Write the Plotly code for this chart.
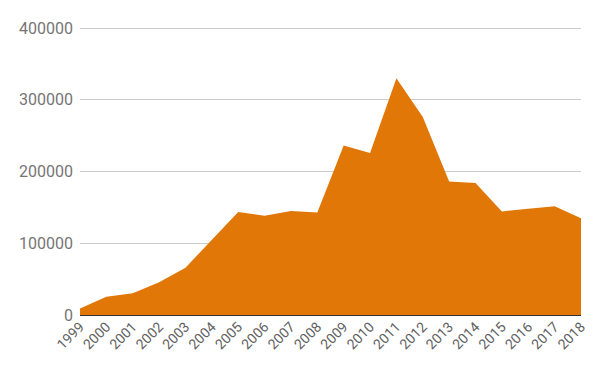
import plotly.graph_objects as go

years = [1999, 2000, 2001, 2002, 2003, 2004, 2005, 2006, 2007, 2008,
         2009, 2010, 2011, 2012, 2013, 2014, 2015, 2016, 2017, 2018]
values = [9000, 25500, 30500, 45500, 66000, 105000, 143500, 138500, 145000, 143000,
          236500, 226000, 330000, 276000, 186000, 184000, 144500, 148000, 151500, 135000]
y_ticks = [0, 100000, 200000, 300000, 400000]
x_labels = [str(y) for y in years]

fig = go.Figure()
fig.add_trace(go.Scatter(
    x=years, y=values, mode="lines", fill="tozeroy",
    line=dict(color="#E07707", width=0), fillcolor="#E07707",
    hoverinfo="x+y", showlegend=False,
))
fig.update_layout(
    width=600, height=370,
    margin=dict(l=80, r=19, t=21, b=55),
    paper_bgcolor="white", plot_bgcolor="white",
    font=dict(family="Roboto", color="#757575"),
)
fig.update_xaxes(
    range=[1999, 2018], tickvals=years, ticktext=x_labels, tickangle=-45,
    tickfont=dict(size=14, color="#616161"), showgrid=False, zeroline=False,
    showline=False, ticks="",
)
fig.update_yaxes(
    range=[0, 410000], tickvals=y_ticks, ticktext=[str(v) for v in y_ticks],
    tickfont=dict(size=16, color="#757575"), showgrid=True, gridcolor="#CCCCCC",
    gridwidth=1, zeroline=True, zerolinecolor="#333333", zerolinewidth=1.5,
    ticks="", ticklabelstandoff=6,
)
fig.write_html("out.html")
